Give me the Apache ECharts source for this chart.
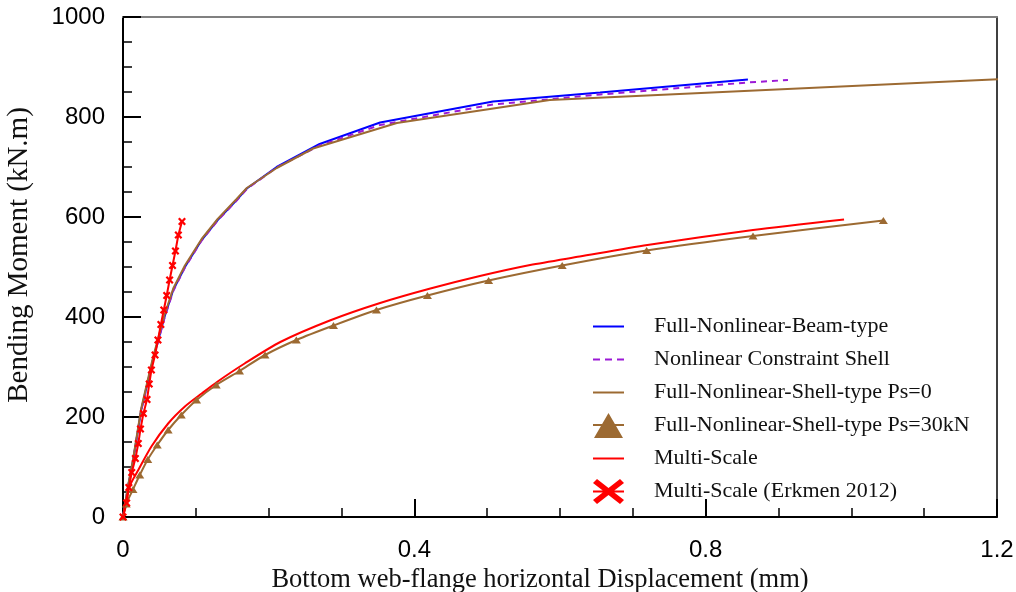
<!DOCTYPE html>
<html>
<head>
<meta charset="utf-8">
<script src="https://cdn.jsdelivr.net/npm/echarts@6/dist/echarts.min.js"></script>
<style>html,body{margin:0;padding:0;background:#fff}#c{width:1016px;height:592px}</style>
</head>
<body>
<div id="c"></div>
<script>
// ---- data ----
const beamX = [0, 0.007, 0.014, 0.025, 0.041, 0.057, 0.069, 0.085, 0.108, 0.130, 0.156, 0.170, 0.211, 0.270, 0.353, 0.508, 0.655, 0.858];
const beamM = [0, 61, 114, 214, 314, 400, 454, 500, 554, 594, 634, 657, 700, 746, 789, 831, 849, 875];

const shellX = [0, 0.007, 0.014, 0.025, 0.041, 0.057, 0.069, 0.085, 0.108, 0.130, 0.156, 0.170, 0.211, 0.270, 0.353, 0.508, 0.655, 0.858, 0.913];
const shellM = [0, 60, 113, 213, 312, 398, 452, 499, 553, 593, 633, 656, 699, 743, 784, 825, 845, 869, 874];

const ps0X = [0, 0.007, 0.014, 0.025, 0.041, 0.057, 0.069, 0.085, 0.108, 0.130, 0.156, 0.170, 0.211, 0.261, 0.376, 0.586, 1.208];
const ps0M = [0, 63, 117, 217, 318, 404, 457, 503, 556, 596, 636, 658, 698, 737, 788, 834, 876];

const ps30X = [0, 0.0045, 0.0137, 0.023, 0.034, 0.047, 0.062, 0.080, 0.101, 0.128, 0.160, 0.195, 0.238, 0.289, 0.348, 0.418, 0.502, 0.603, 0.719, 0.865, 1.044];
const ps30M = [0, 26, 55, 84, 115, 144, 174, 204, 234, 264, 292, 324, 354, 383, 414, 443, 473, 503, 533, 562, 593];

const msX = [0, 0.009, 0.021, 0.039, 0.062, 0.085, 0.108, 0.130, 0.167, 0.216, 0.284, 0.353, 0.422, 0.490, 0.559, 0.627, 0.720, 0.865, 0.990];
const msM = [0, 61, 94, 141, 187, 221, 247, 271, 307, 350, 393, 428, 457, 482, 504, 521, 544, 574, 595];

const erX = [0, 0.005, 0.008, 0.012, 0.017, 0.021, 0.024, 0.028, 0.033, 0.036, 0.039, 0.044, 0.048, 0.052, 0.056, 0.060, 0.064, 0.068, 0.072, 0.076, 0.081];
const erM = [0, 28, 59, 89, 117, 147, 176, 207, 235, 266, 294, 324, 354, 385, 414, 443, 474, 503, 532, 564, 591];

const seriesNames = [
  'Full-Nonlinear-Beam-type',
  'Nonlinear Constraint Shell',
  'Full-Nonlinear-Shell-type Ps=0',
  'Full-Nonlinear-Shell-type Ps=30kN',
  'Multi-Scale',
  'Multi-Scale (Erkmen 2012)'
];
const xTickLabels = ['0', '0.4', '0.8', '1.2'];
const yTickLabels = ['0', '200', '400', '600', '800', '1000'];
const xTitle = 'Bottom web-flange horizontal Displacement (mm)';
const yTitle = 'Bending Moment (kN.m)';

// ---- chart ----
const zip = (xs, ys) => xs.map((x, i) => [x, ys[i]]);
const BLUE = '#0000ff', PURPLE = '#9b19d6', BROWN = '#9c6a32', RED = '#ff0000';

const iconLine = 'path://M0,0 h31 v2 h-31 Z';
const iconDash = 'path://M0,0 h7 v2 h-7 Z M12,0 h7 v2 h-7 Z M24,0 h7 v2 h-7 Z';
const iconTri = 'path://M0,11 h31 v2 h-31 Z M1,25 L15.5,0 L30,25 Z';
const iconX = 'path://M0,11.5 h31 v2 h-31 Z M0,4 L4,0 L15.5,9 L27,0 L31,4 L20,12.5 L31,21 L27,25 L15.5,16 L4,25 L0,21 L11,12.5 Z';
const smallX = 'path://M0,2 L2,0 L5,3 L8,0 L10,2 L7,5 L10,8 L8,10 L5,7 L2,10 L0,8 L3,5 Z';

const chart = echarts.init(document.getElementById('c'), null, {renderer: 'canvas'});
const axisFont = {fontFamily: 'Liberation Sans', fontSize: 24, color: '#000'};
chart.setOption({
  animation: false,
  backgroundColor: '#fff',
  grid: {left: 123, right: 19, top: 17, bottom: 75, containLabel: false, outerBoundsMode: 'none'},
  legend: {
    orient: 'vertical', left: 588, top: 309,
    itemWidth: 31, itemHeight: 25, itemGap: 8,
    itemStyle: {borderWidth: 0},
    textStyle: {fontFamily: 'Liberation Serif', fontSize: 22, lineHeight: 25, color: '#111', padding: [0, 0, 0, 25]},
    data: [
      {name: seriesNames[0], icon: iconLine},
      {name: seriesNames[1], icon: iconDash},
      {name: seriesNames[2], icon: iconLine},
      {name: seriesNames[3], icon: iconTri},
      {name: seriesNames[4], icon: iconLine},
      {name: seriesNames[5], icon: iconX}
    ]
  },
  xAxis: [{
    type: 'value', min: 0, max: 1.2, interval: 0.4,
    name: xTitle, nameLocation: 'middle', nameGap: 47,
    nameTextStyle: {fontFamily: 'Liberation Serif', fontSize: 26.5, color: '#111', padding: [0, 40, 0, 0]},
    axisLine: {show: true, onZero: false, lineStyle: {color: '#000', width: 2}},
    axisTick: {show: true, inside: true, length: 18, lineStyle: {color: '#000', width: 2}},
    minorTick: {show: true, splitNumber: 4, length: 9, lineStyle: {color: '#000', width: 1.5}},
    axisLabel: Object.assign({margin: 21, formatter: (v) => xTickLabels[Math.round(v / 0.4)]}, axisFont),
    splitLine: {show: false}
  }, {
    type: 'value', min: 0, max: 1.2, position: 'top',
    axisLine: {show: true, onZero: false, lineStyle: {color: '#808080', width: 2}},
    axisTick: {show: false}, axisLabel: {show: false}, splitLine: {show: false}
  }],
  yAxis: [{
    type: 'value', min: 0, max: 1000, interval: 200,
    name: yTitle, nameLocation: 'middle', nameGap: 89,
    nameTextStyle: {fontFamily: 'Liberation Serif', fontSize: 29, color: '#111', padding: [0, 0, 0, 24]},
    axisLine: {show: true, onZero: false, lineStyle: {color: '#000', width: 2}},
    axisTick: {show: true, inside: true, length: 18, lineStyle: {color: '#000', width: 2}},
    minorTick: {show: true, splitNumber: 4, length: 9, lineStyle: {color: '#000', width: 1.5}},
    axisLabel: Object.assign({margin: 18, formatter: (v) => yTickLabels[Math.round(v / 200)]}, axisFont),
    splitLine: {show: false}
  }, {
    type: 'value', min: 0, max: 1000, position: 'right',
    axisLine: {show: true, onZero: false, lineStyle: {color: '#000', width: 1.5}},
    axisTick: {show: false}, axisLabel: {show: false}, splitLine: {show: false}
  }],
  series: [
    {name: seriesNames[0], type: 'line', data: zip(beamX, beamM), symbol: 'none',
     itemStyle: {color: BLUE}, lineStyle: {color: BLUE, width: 2}},
    {name: seriesNames[1], type: 'line', data: zip(shellX, shellM), symbol: 'none',
     itemStyle: {color: PURPLE}, lineStyle: {color: PURPLE, width: 2, type: [6, 5]}},
    {name: seriesNames[2], type: 'line', data: zip(ps0X, ps0M), symbol: 'none', clip: false,
     itemStyle: {color: BROWN}, lineStyle: {color: BROWN, width: 2}},
    {name: seriesNames[3], type: 'line', data: zip(ps30X, ps30M), symbol: 'triangle', symbolSize: [9, 7],
     showSymbol: true, smooth: 0.25,
     itemStyle: {color: BROWN, borderWidth: 0}, lineStyle: {color: BROWN, width: 2}},
    {name: seriesNames[4], type: 'line', data: zip(msX, msM), symbol: 'none', smooth: 0.25,
     itemStyle: {color: RED}, lineStyle: {color: RED, width: 2}},
    {name: seriesNames[5], type: 'line', data: zip(erX, erM), symbol: smallX, symbolSize: 8,
     showSymbol: true, itemStyle: {color: RED, borderWidth: 0}, lineStyle: {color: RED, width: 2}}
  ]
});
</script>
</body>
</html>
